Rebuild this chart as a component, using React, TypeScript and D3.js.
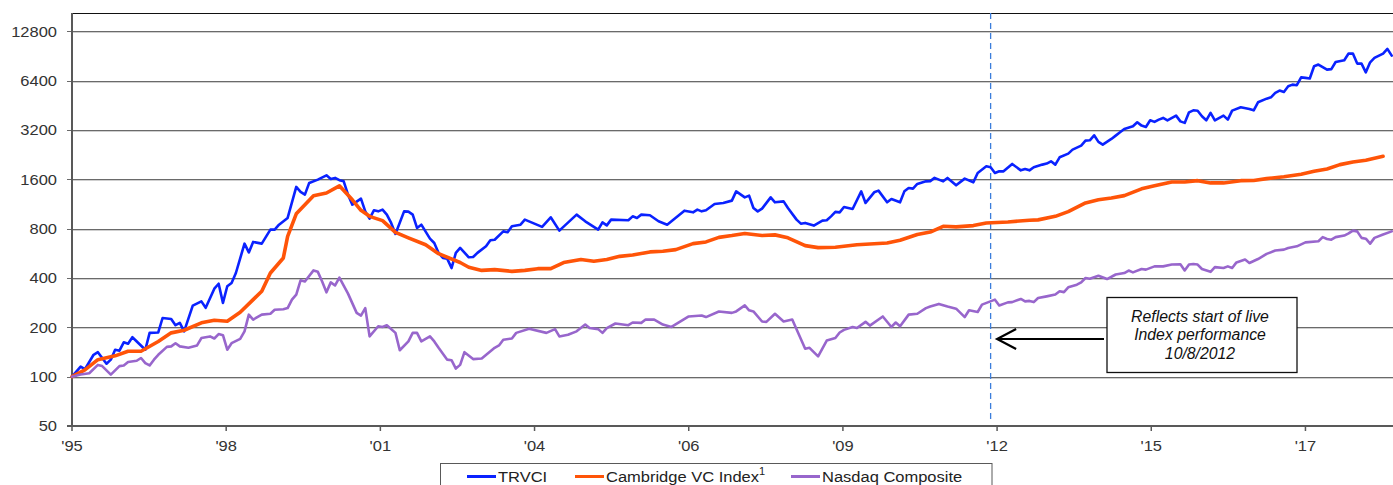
import { useEffect, useRef } from 'react';
import * as d3 from 'd3';

const WIDTH = 1393;
const HEIGHT = 485;

// [months since Jan 1995, index level] (Jan 1995 = 100)
const trvci: [number, number][] = [
  [0, 100], [2, 115], [3, 111], [5, 136], [6, 141], [8, 120], [9, 127], [10, 146], [11, 144], [12, 162], [13, 159], [14, 174],
  [17, 146], [18, 185], [20, 186], [21, 228], [23, 225], [24, 206], [25, 213], [26, 189], [28, 271], [30, 288], [31, 263],
  [33, 344], [34, 369], [35, 282], [36, 356], [37, 373], [38, 429], [40, 648], [41, 573], [42, 664], [44, 648], [46, 789],
  [47, 789], [48, 846], [50, 930], [52, 1438], [53, 1340], [54, 1290], [55, 1521], [57, 1593], [59, 1692], [60, 1609],
  [61, 1632], [62, 1580], [63, 1555], [64, 1290], [65, 1121], [67, 1219], [68, 1020], [69, 921], [70, 1035], [71, 1020],
  [72, 1045], [73, 974], [74, 867], [75, 743], [77, 1020], [78, 1016], [79, 974], [80, 808], [81, 846], [83, 695], [84, 654],
  [85, 569], [86, 530], [87, 525], [88, 460], [89, 569], [90, 610], [92, 535], [93, 537], [94, 569], [96, 624], [97, 679],
  [98, 685], [100, 770], [101, 760], [102, 827], [104, 846], [105, 908], [109, 820], [111, 938], [113, 778], [117, 974],
  [119, 887], [122, 789], [123, 874], [124, 838], [125, 908], [129, 900], [130, 951], [131, 930], [132, 974], [134, 965],
  [136, 887], [138, 846], [142, 1030], [144, 1006], [145, 1045], [146, 1020], [147, 1035], [149, 1132], [151, 1148],
  [153, 1186], [154, 1351], [156, 1242], [157, 1272], [158, 1070], [159, 1020], [160, 1060], [162, 1242], [163, 1158],
  [165, 1174], [166, 1070], [168, 908], [169, 858], [170, 867], [172, 835], [174, 895], [175, 900], [176, 951], [177, 1012],
  [178, 1006], [179, 1085], [181, 1055], [183, 1351], [184, 1148], [186, 1333], [187, 1365], [189, 1158], [190, 1214],
  [192, 1158], [193, 1351], [194, 1417], [195, 1404], [196, 1499], [198, 1555], [199, 1560], [200, 1632], [201, 1593],
  [202, 1555], [203, 1632], [205, 1470], [207, 1616], [209, 1534], [210, 1750], [212, 1920], [213, 1894], [214, 1750],
  [215, 1790], [216, 1790], [218, 1986], [220, 1815], [221, 1851], [222, 1815], [223, 1894], [225, 1967], [226, 1995],
  [227, 2060], [228, 1967], [229, 2180], [231, 2296], [232, 2428], [234, 2568], [235, 2755], [236, 2767], [237, 2970],
  [238, 2706], [239, 2605], [241, 2822], [242, 2955], [243, 3096], [244, 3247], [246, 3370], [247, 3563], [248, 3402],
  [249, 3340], [250, 3665], [251, 3585], [252, 3700], [253, 3790], [254, 3665], [256, 3915], [257, 3610], [258, 3535],
  [259, 4100], [260, 4217], [261, 4190], [262, 3877], [263, 3665], [264, 4066], [265, 3665], [267, 3915], [268, 3700],
  [269, 4200], [271, 4400], [273, 4300], [274, 4217], [275, 4720], [277, 4970], [278, 5063], [279, 5386], [280, 5564],
  [281, 5460], [282, 5910], [283, 6050], [284, 6000], [285, 6700], [286, 6650], [287, 6590], [288, 7830], [289, 8020],
  [291, 7470], [292, 7520], [293, 8320], [295, 8520], [296, 9360], [297, 9360], [298, 8130], [299, 8130], [300, 7195],
  [301, 8280], [302, 8810], [304, 9360], [305, 10000], [306, 9100],
];

const cambridge: [number, number][] = [
  [0, 100], [3, 110], [6, 127], [10, 134], [13, 143], [16, 143], [20, 164], [23, 185], [26, 192], [30, 213], [33, 221],
  [36, 218], [39, 247], [42, 295], [44, 332], [46, 429], [49, 530], [50, 718], [52, 985], [56, 1272], [59, 1320], [62, 1460],
  [65, 1200], [67, 1035], [69, 951], [72, 895], [75, 759], [78, 703], [82, 638], [85, 563], [90, 497], [92, 465], [95, 445],
  [98, 450], [102, 439], [105, 445], [108, 456], [111, 456], [114, 497], [118, 518], [121, 506], [124, 518], [127, 542],
  [130, 552], [134, 577], [137, 582], [140, 596], [144, 648], [147, 664], [150, 708], [153, 726], [156, 748], [160, 726],
  [163, 733], [166, 703], [170, 630], [173, 613], [177, 616], [182, 638], [189, 654], [192, 679], [196, 737], [199, 763],
  [202, 827], [205, 820], [209, 835], [212, 867], [217, 879], [222, 900], [224, 905], [228, 951], [231, 1016], [235, 1148],
  [238, 1200], [241, 1230], [244, 1272], [248, 1400], [251, 1460], [255, 1540], [258, 1540], [261, 1570], [264, 1521],
  [267, 1521], [271, 1570], [274, 1575], [277, 1616], [281, 1660], [285, 1720], [288, 1790], [291, 1851], [294, 1967],
  [297, 2040], [300, 2090], [304, 2210],
];

const nasdaq: [number, number][] = [
  [0, 100], [2, 103], [4, 105], [6, 118], [7, 116], [9, 103], [11, 116], [12, 117], [13, 123], [15, 125], [16, 130],
  [17, 121], [18, 117], [19, 127], [20, 136], [22, 152], [23, 153], [24, 160], [25, 153], [27, 150], [29, 155], [30, 172],
  [32, 176], [33, 171], [34, 182], [35, 179], [36, 146], [37, 160], [39, 170], [40, 189], [41, 239], [42, 223], [44, 239],
  [46, 242], [47, 256], [49, 258], [50, 262], [51, 295], [52, 317], [53, 387], [54, 381], [56, 445], [57, 436], [58, 381],
  [59, 327], [60, 376], [61, 360], [62, 402], [64, 321], [66, 245], [67, 236], [68, 262], [69, 176], [71, 203], [72, 201],
  [73, 206], [75, 185], [76, 145], [78, 164], [79, 185], [80, 185], [81, 164], [83, 176], [84, 164], [85, 150], [87, 127],
  [88, 126], [89, 112], [90, 118], [91, 141], [93, 128], [95, 129], [98, 150], [99, 155], [100, 168], [102, 171], [103, 185],
  [106, 196], [110, 185], [112, 195], [113, 176], [115, 180], [117, 189], [119, 208], [120, 198], [122, 195], [123, 185],
  [124, 198], [126, 211], [129, 206], [130, 214], [132, 213], [133, 223], [135, 223], [137, 208], [139, 201], [143, 233],
  [146, 236], [147, 231], [150, 250], [153, 245], [154, 250], [156, 272], [157, 254], [158, 250], [160, 217], [161, 216],
  [163, 242], [165, 217], [167, 223], [170, 148], [171, 150], [173, 133], [175, 166], [177, 172], [178, 186], [179, 193],
  [181, 201], [182, 198], [184, 216], [185, 205], [188, 233], [190, 201], [191, 214], [192, 203], [194, 239], [196, 242],
  [198, 262], [199, 268], [201, 278], [203, 268], [205, 260], [207, 231], [208, 254], [210, 248], [211, 275], [214, 295],
  [215, 272], [217, 284], [218, 285], [220, 298], [221, 288], [222, 290], [223, 285], [224, 302], [226, 309], [228, 317],
  [229, 332], [230, 328], [231, 351], [233, 364], [234, 376], [235, 400], [236, 396], [238, 413], [240, 394], [242, 420],
  [244, 429], [245, 444], [246, 433], [248, 454], [249, 450], [251, 471], [253, 471], [255, 483], [257, 485], [258, 445],
  [259, 483], [260, 487], [261, 483], [262, 454], [264, 436], [265, 466], [267, 460], [268, 471], [269, 460], [270, 498],
  [272, 518], [273, 494], [275, 522], [277, 561], [279, 588], [281, 596], [282, 610], [284, 624], [286, 660], [289, 670],
  [290, 710], [291, 692], [292, 685], [293, 710], [295, 726], [296, 748], [297, 778], [298, 770], [299, 703], [300, 695],
  [301, 648], [302, 703], [304, 737], [306, 770],
];

const yTicks = [50, 100, 200, 400, 800, 1600, 3200, 6400, 12800];
const xTickLabels = ["'95", "'98", "'01", "'04", "'06", "'09", "'12", "'15", "'17"];
const xTickStep = 35.75; // months between labels
const liveStartMonth = 213; // 10/8/2012
const noteLines = ['Reflects start of live', 'Index performance', '10/8/2012'];

const series = [
  { name: 'TRVCI', data: trvci, color: '#0a22ff', width: 2.6, sup: '' },
  { name: 'Cambridge VC Index', data: cambridge, color: '#ff5408', width: 3.6, sup: '1' },
  { name: 'Nasdaq Composite', data: nasdaq, color: '#9866cc', width: 2.6, sup: '' },
];

const FONT = '"Liberation Sans", Arial, sans-serif';
const AXIS = '#595959';

export default function App() {
  const svgRef = useRef<SVGSVGElement>(null);

  useEffect(() => {
    if (!svgRef.current) return;
    const svg = d3.select(svgRef.current);
    svg.selectAll('*').remove();

    const left = 72, right = WIDTH, top = 13, bottom = 426;
    const x = d3.scaleLinear().domain([0, 306.3]).range([left, right]);
    const y = d3.scaleLog().base(2).domain([50, 12800]).range([bottom, 31.3]);

    // gridlines (dark line with a light shadow underneath)
    const grid = svg.append('g');
    yTicks.slice(1).forEach(t => {
      const yy = Math.round(y(t)) + 0.5;
      grid.append('line').attr('x1', left - 5).attr('x2', right).attr('y1', yy).attr('y2', yy)
        .attr('stroke', '#6a6a6a').attr('stroke-width', 1);
      grid.append('line').attr('x1', left).attr('x2', right).attr('y1', yy + 1).attr('y2', yy + 1)
        .attr('stroke', '#cfcfcf').attr('stroke-width', 1);
    });

    // frame + axes
    svg.append('line').attr('x1', left).attr('x2', right).attr('y1', top + 0.5).attr('y2', top + 0.5)
      .attr('stroke', '#111').attr('stroke-width', 1.2);
    svg.append('line').attr('x1', left).attr('x2', left).attr('y1', top).attr('y2', bottom + 1)
      .attr('stroke', AXIS).attr('stroke-width', 2);
    svg.append('line').attr('x1', left - 5).attr('x2', right).attr('y1', bottom).attr('y2', bottom)
      .attr('stroke', AXIS).attr('stroke-width', 2);

    // y labels
    yTicks.forEach(t => {
      svg.append('text')
        .attr('transform', `translate(57,${y(t) + 5.3}) scale(1.1,1)`)
        .attr('text-anchor', 'end')
        .attr('font-family', FONT).attr('font-size', 15).attr('fill', '#333')
        .text(String(t));
    });

    // x ticks + labels
    xTickLabels.forEach((lab, i) => {
      const xx = x(i * xTickStep);
      svg.append('line').attr('x1', xx).attr('x2', xx).attr('y1', bottom).attr('y2', bottom + 5)
        .attr('stroke', AXIS).attr('stroke-width', 1.5);
      svg.append('text')
        .attr('transform', `translate(${xx},${450.5}) scale(1.1,1)`)
        .attr('text-anchor', 'middle')
        .attr('font-family', FONT).attr('font-size', 15).attr('fill', '#333')
        .text(lab);
    });

    // live start marker
    const xl = x(liveStartMonth);
    svg.append('line').attr('x1', xl).attr('x2', xl).attr('y1', top).attr('y2', 420)
      .attr('stroke', '#3b7ddb').attr('stroke-width', 1.3).attr('stroke-dasharray', '6,4');

    // series
    const line = d3.line<[number, number]>().x(d => x(d[0])).y(d => y(d[1])).curve(d3.curveLinear);
    series.forEach(s => {
      svg.append('path').datum(s.data).attr('d', line)
        .attr('fill', 'none').attr('stroke', s.color).attr('stroke-width', s.width)
        .attr('stroke-linejoin', 'round').attr('stroke-linecap', 'round');
    });

    // annotation box + arrow
    const bx = 1107, by = 297.5, bw = 190, bh = 75;
    svg.append('rect').attr('x', bx).attr('y', by).attr('width', bw).attr('height', bh)
      .attr('fill', 'white').attr('stroke', '#111').attr('stroke-width', 1.3);
    noteLines.forEach((t, i) => {
      svg.append('text')
        .attr('x', bx + bw / 2 - 2).attr('y', 322 + i * 18.3)
        .attr('text-anchor', 'middle')
        .attr('font-family', FONT).attr('font-size', 15.8).attr('font-style', 'italic').attr('fill', '#111')
        .text(t);
    });
    const ay = 339, tip = xl + 6.5;
    const arrow = svg.append('g').attr('stroke', '#000').attr('stroke-width', 2.2).attr('fill', 'none');
    arrow.append('line').attr('x1', bx - 3).attr('x2', tip).attr('y1', ay).attr('y2', ay);
    arrow.append('path').attr('d', `M${tip + 19},${ay - 10} L${tip},${ay} L${tip + 19},${ay + 10}`);

    // legend
    const lg = svg.append('g');
    lg.append('rect').attr('x', 440.5).attr('y', 463.5).attr('width', 551.5).attr('height', 30)
      .attr('fill', 'white').attr('stroke', AXIS).attr('stroke-width', 1);
    const itemX = [467, 575, 791];
    series.forEach((s, i) => {
      const lx = itemX[i];
      lg.append('line').attr('x1', lx).attr('x2', lx + 29).attr('y1', 476.5).attr('y2', 476.5)
        .attr('stroke', s.color).attr('stroke-width', 3);
      const tx = lg.append('text')
        .attr('transform', `translate(${lx + 31},481.8) scale(1.1,1)`)
        .attr('font-family', FONT).attr('font-size', 15).attr('fill', '#222')
        .text(s.name);
      if (s.sup) {
        tx.append('tspan').attr('dy', -6.5).attr('font-size', 10).text(s.sup);
      }
    });
  }, []);

  return (
    <svg
      ref={svgRef}
      width={WIDTH}
      height={HEIGHT}
      style={{ position: 'absolute', left: 0, top: 0, background: 'white', display: 'block' }}
    />
  );
}
